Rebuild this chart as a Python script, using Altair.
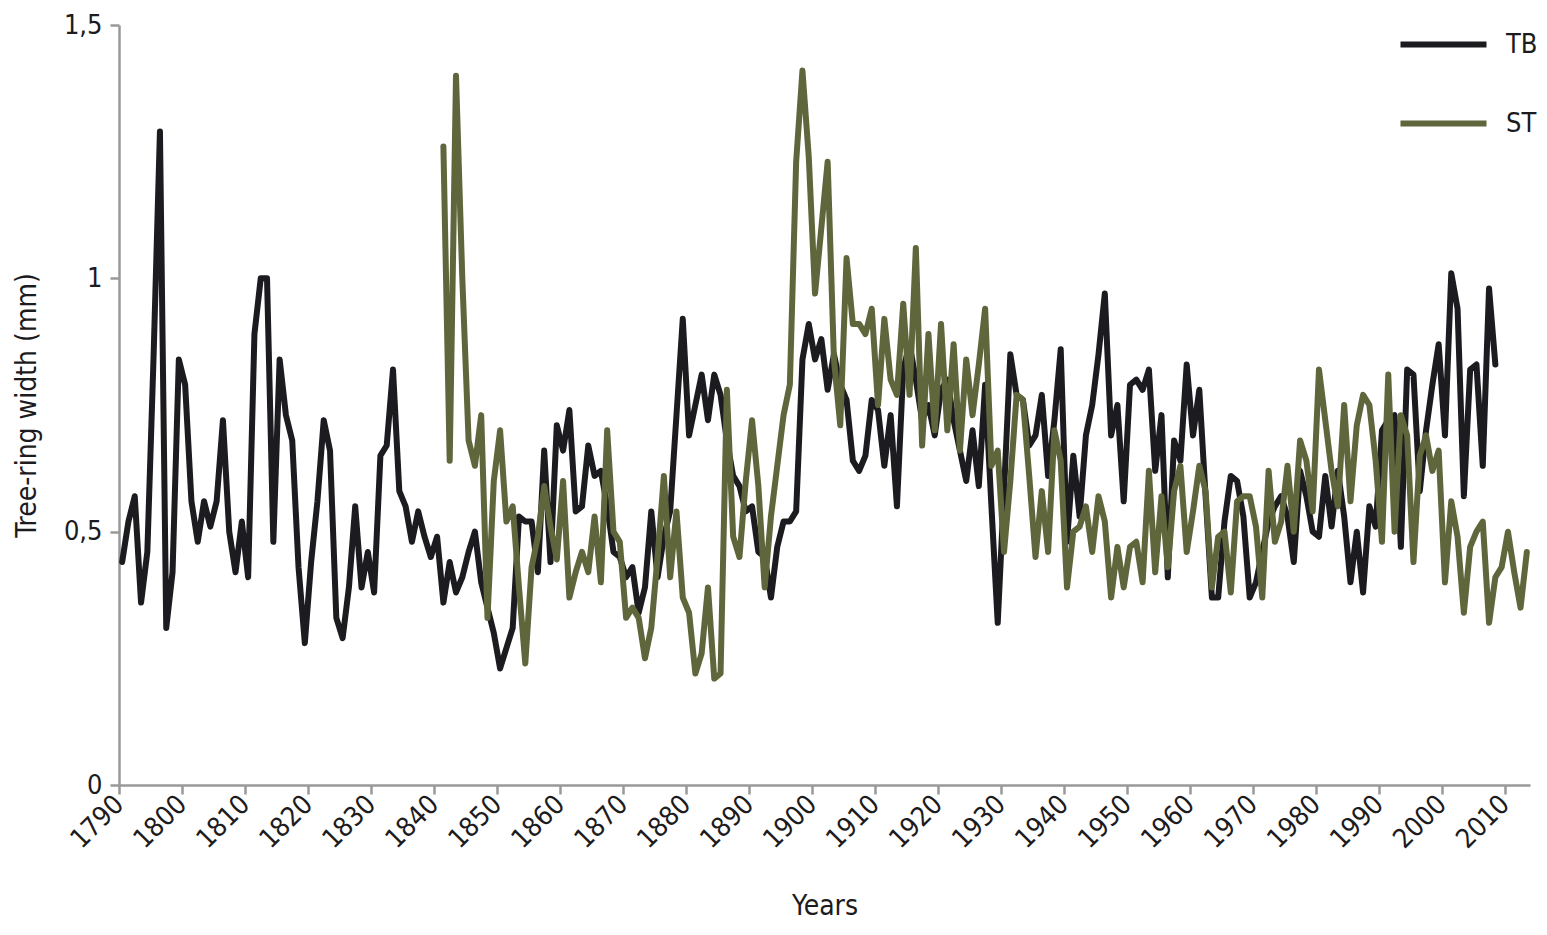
import altair as alt
import pandas as pd

# Tree-ring width series (mm)
tb_start = 1790
tb_values = [
    0.44, 0.52, 0.57, 0.36, 0.46, 0.85, 1.29, 0.31, 0.42, 0.84,  # 1790-1799
    0.79, 0.56, 0.48, 0.56, 0.51, 0.56, 0.72, 0.50, 0.42, 0.52,  # 1800-1809
    0.41, 0.89, 1.00, 1.00, 0.48, 0.84, 0.73, 0.68, 0.43, 0.28,  # 1810-1819
    0.44, 0.56, 0.72, 0.66, 0.33, 0.29, 0.39, 0.55, 0.39, 0.46,  # 1820-1829
    0.38, 0.65, 0.67, 0.82, 0.58, 0.55, 0.48, 0.54, 0.49, 0.45,  # 1830-1839
    0.49, 0.36, 0.44, 0.38, 0.41, 0.46, 0.50, 0.40, 0.35, 0.30,  # 1840-1849
    0.23, 0.27, 0.31, 0.53, 0.52, 0.52, 0.42, 0.66, 0.44, 0.71,  # 1850-1859
    0.66, 0.74, 0.54, 0.55, 0.67, 0.61, 0.62, 0.55, 0.46, 0.45,  # 1860-1869
    0.41, 0.43, 0.34, 0.39, 0.54, 0.41, 0.49, 0.54, 0.73, 0.92,  # 1870-1879
    0.69, 0.75, 0.81, 0.72, 0.81, 0.77, 0.68, 0.61, 0.59, 0.54,  # 1880-1889
    0.55, 0.46, 0.45, 0.37, 0.47, 0.52, 0.52, 0.54, 0.84, 0.91,  # 1890-1899
    0.84, 0.88, 0.78, 0.85, 0.79, 0.76, 0.64, 0.62, 0.65, 0.76,  # 1900-1909
    0.74, 0.63, 0.73, 0.55, 0.82, 0.87, 0.80, 0.72, 0.75, 0.69,  # 1910-1919
    0.78, 0.80, 0.72, 0.66, 0.60, 0.70, 0.59, 0.79, 0.55, 0.32,  # 1920-1929
    0.58, 0.85, 0.77, 0.76, 0.67, 0.69, 0.77, 0.61, 0.72, 0.86,  # 1930-1939
    0.48, 0.65, 0.53, 0.69, 0.75, 0.85, 0.97, 0.69, 0.75, 0.56,  # 1940-1949
    0.79, 0.80, 0.78, 0.82, 0.62, 0.73, 0.41, 0.68, 0.64, 0.83,  # 1950-1959
    0.69, 0.78, 0.57, 0.37, 0.37, 0.52, 0.61, 0.60, 0.53, 0.37,  # 1960-1969
    0.40, 0.46, 0.52, 0.55, 0.57, 0.53, 0.44, 0.62, 0.57, 0.50,  # 1970-1979
    0.49, 0.61, 0.51, 0.62, 0.53, 0.40, 0.50, 0.38, 0.55, 0.51,  # 1980-1989
    0.70, 0.72, 0.73, 0.47, 0.82, 0.81, 0.58, 0.70, 0.79, 0.87,  # 1990-1999
    0.69, 1.01, 0.94, 0.57, 0.82, 0.83, 0.63, 0.98, 0.83,        # 2000-2008
]

st_start = 1841
st_values = [
    1.26, 0.64, 1.40, 1.00, 0.68, 0.63, 0.73, 0.33, 0.60,        # 1841-1849
    0.70, 0.52, 0.55, 0.39, 0.24, 0.43, 0.49, 0.59, 0.51, 0.445,  # 1850-1859
    0.60, 0.37, 0.42, 0.46, 0.42, 0.53, 0.40, 0.70, 0.50, 0.48,  # 1860-1869
    0.33, 0.35, 0.33, 0.25, 0.31, 0.45, 0.61, 0.41, 0.54, 0.37,  # 1870-1879
    0.34, 0.22, 0.26, 0.39, 0.21, 0.22, 0.78, 0.49, 0.45, 0.60,  # 1880-1889
    0.72, 0.59, 0.39, 0.53, 0.63, 0.73, 0.79, 1.23, 1.41, 1.24,  # 1890-1899
    0.97, 1.10, 1.23, 0.84, 0.71, 1.04, 0.91, 0.91, 0.89, 0.94,  # 1900-1909
    0.75, 0.92, 0.80, 0.77, 0.95, 0.77, 1.06, 0.67, 0.89, 0.70,  # 1910-1919
    0.91, 0.70, 0.87, 0.66, 0.84, 0.73, 0.83, 0.94, 0.63, 0.66,  # 1920-1929
    0.46, 0.60, 0.77, 0.76, 0.61, 0.45, 0.58, 0.46, 0.70, 0.64,  # 1930-1939
    0.39, 0.50, 0.51, 0.55, 0.46, 0.57, 0.52, 0.37, 0.47, 0.39,  # 1940-1949
    0.47, 0.48, 0.40, 0.62, 0.42, 0.57, 0.43, 0.58, 0.63, 0.46,  # 1950-1959
    0.54, 0.63, 0.58, 0.39, 0.49, 0.50, 0.38, 0.56, 0.57, 0.57,  # 1960-1969
    0.51, 0.37, 0.62, 0.48, 0.52, 0.63, 0.50, 0.68, 0.64, 0.54,  # 1970-1979
    0.82, 0.72, 0.62, 0.55, 0.75, 0.56, 0.71, 0.77, 0.75, 0.64,  # 1980-1989
    0.48, 0.81, 0.50, 0.73, 0.69, 0.44, 0.65, 0.69, 0.62, 0.66,  # 1990-1999
    0.40, 0.56, 0.49, 0.34, 0.47, 0.50, 0.52, 0.32, 0.41, 0.43,  # 2000-2009
    0.50, 0.42, 0.35, 0.46,                                      # 2010-2013
]

series_names = ["TB", "ST"]
series_colors = ["#1c1b20", "#5f663c"]
x_ticks = list(range(1790, 2011, 10))
y_ticks = [0, 0.5, 1, 1.5]

tb_df = pd.DataFrame({
    "year": list(range(tb_start, tb_start + len(tb_values))),
    "width": tb_values,
    "series": "TB",
})
st_df = pd.DataFrame({
    "year": list(range(st_start, st_start + len(st_values))),
    "width": st_values,
    "series": "ST",
})

FONT = "DejaVu Sans Condensed, Liberation Sans Narrow, Roboto, sans-serif"
GREY = "#999999"

x_enc = alt.X(
    "xpos:Q",
    scale=alt.Scale(domain=[1790, 2014], nice=False, zero=False),
    axis=alt.Axis(
        title="Years",
        values=x_ticks,
        format="d",
        labelAngle=-45,
        labelAlign="right",
        labelBaseline="middle",
        labelPadding=6,
        tickSize=9,
        titlePadding=40,
        grid=False,
    ),
)
y_enc = alt.Y(
    "width:Q",
    scale=alt.Scale(domain=[0, 1.5], nice=False),
    axis=alt.Axis(
        title="Tree-ring width (mm)",
        values=y_ticks,
        labelExpr="replace(toString(datum.value), '.', ',')",
        tickSize=9,
        labelPadding=8,
        titlePadding=22,
        grid=False,
    ),
)
color_enc = alt.Color(
    "series:N",
    scale=alt.Scale(domain=series_names, range=series_colors),
    legend=alt.Legend(
        title=None,
        orient="none",
        legendX=1278,
        legendY=-27,
        symbolType="stroke",
        symbolSize=7400,
        symbolStrokeWidth=6,
        labelFontSize=27,
        labelFont=FONT,
        labelColor="#1c1b20",
        labelOffset=16,
        rowPadding=19,
        padding=0,
    ),
)

def line(df):
    return (
        alt.Chart(df)
        .transform_calculate(xpos="datum.year + 0.5")
        .mark_line(strokeWidth=6, strokeJoin="round", strokeCap="round")
        .encode(x=x_enc, y=y_enc, color=color_enc)
    )

chart = (
    alt.layer(line(tb_df), line(st_df))
    .properties(
        width=1411,
        height=760,
        autosize=alt.AutoSizeParams(type="none"),
        padding={"left": 111, "top": 17, "right": 8, "bottom": 140},
    )
    .configure_view(stroke=None)
    .configure_axis(
        domainColor=GREY,
        domainWidth=2.5,
        tickColor=GREY,
        tickWidth=2.5,
        labelFont=FONT,
        labelFontSize=27,
        labelColor="#1c1b20",
        titleFont=FONT,
        titleFontSize=28,
        titleFontWeight="normal",
        titleColor="#1c1b20",
    )
)

chart.save("out.html", embed_options={"renderer": "svg", "actions": False})
